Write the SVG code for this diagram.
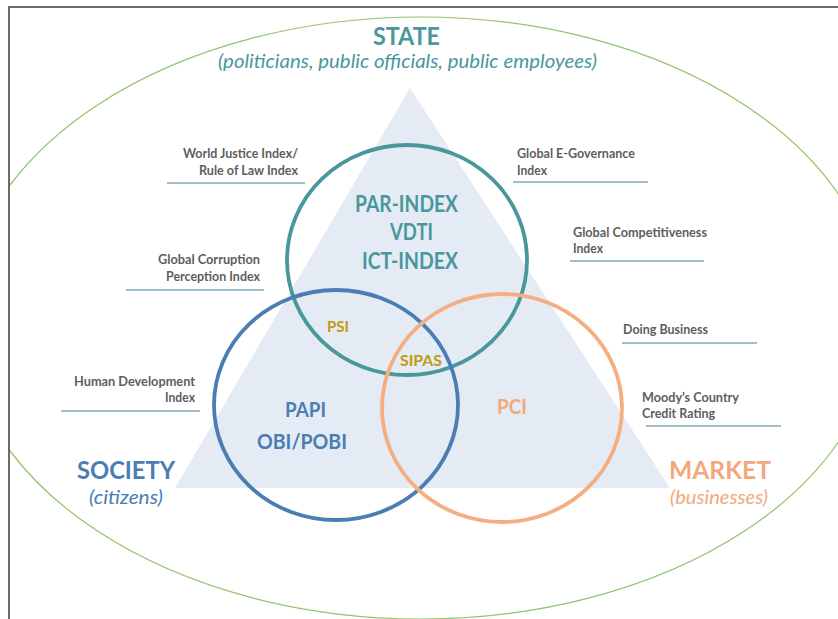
<svg xmlns="http://www.w3.org/2000/svg" width="838" height="619" viewBox="0 0 838 619">
<defs>
<clipPath id="frameClip"><rect x="10" y="8" width="840" height="620"/></clipPath>
<style>
text{font-family:Lato,"Liberation Sans",sans-serif;}
.lbl{font-size:12.5px;font-weight:bold;fill:#5e5e5e;}
.ul{stroke:#7faab8;stroke-width:1.5;fill:none;}
.big{font-weight:bold;}
.it{font-style:italic;}
.teal{fill:#4a979b;}
.blue{fill:#4a7db3;}
.orange{fill:#f2a87b;}
.gold{fill:#c09a10;font-weight:bold;font-size:15.5px;}
.ring{fill:none;stroke-width:3.8;}
</style>
</defs>
<rect width="838" height="619" fill="#ffffff"/>
<g id="frame"><path d="M9,619 V7 H838" fill="none" stroke="#6b6b6b" stroke-width="2"/></g>
<g id="environment"><ellipse cx="421" cy="318" rx="458" ry="301" fill="none" stroke="#92c36a" stroke-width="1.2" clip-path="url(#frameClip)"/></g>
<g id="triangle"><polygon points="410,88 175,488 670,488" fill="#e5ebf5"/></g>
<g id="state-circle"><ellipse cx="407" cy="260" rx="120" ry="115" class="ring" stroke="#4a979b"/></g>
<g id="society-circle"><ellipse cx="336" cy="405" rx="122" ry="115" class="ring" stroke="#4a7db3"/></g>
<g id="market-circle"><ellipse cx="502" cy="408" rx="120" ry="114" class="ring" stroke="#f4ae80"/></g>
<g id="connectors">
<line class="ul" x1="167" y1="183" x2="305" y2="183"/>
<line class="ul" x1="513" y1="182" x2="648" y2="182"/>
<line class="ul" x1="570" y1="261" x2="704" y2="261"/>
<line class="ul" x1="126" y1="290" x2="264" y2="290"/>
<line class="ul" x1="61" y1="411" x2="200" y2="411"/>
<line class="ul" x1="622" y1="343" x2="757" y2="343"/>
<line class="ul" x1="646" y1="426" x2="781" y2="426"/>
</g>
<g id="state-label">
<text x="373" y="45" class="big teal" font-size="25" textLength="67" lengthAdjust="spacingAndGlyphs">STATE</text>
<text x="218" y="68" class="it teal" font-size="19.5" textLength="379" lengthAdjust="spacingAndGlyphs">(politicians, public officials, public employees)</text>
</g>
<g id="state-indices">
<text x="355" y="212" class="big teal" font-size="22" textLength="103" lengthAdjust="spacingAndGlyphs">PAR-INDEX</text>
<text x="390" y="240" class="big teal" font-size="22" textLength="43" lengthAdjust="spacingAndGlyphs">VDTI</text>
<text x="362" y="269" class="big teal" font-size="22" textLength="96" lengthAdjust="spacingAndGlyphs">ICT-INDEX</text>
</g>
<g id="psi"><text x="327" y="332" class="gold" textLength="22" lengthAdjust="spacingAndGlyphs">PSI</text></g>
<g id="sipas"><text x="400" y="366" class="gold" textLength="42" lengthAdjust="spacingAndGlyphs">SIPAS</text></g>
<g id="society-indices">
<text x="285" y="417" class="big blue" font-size="21" textLength="41" lengthAdjust="spacingAndGlyphs">PAPI</text>
<text x="257" y="449" class="big blue" font-size="21" textLength="90" lengthAdjust="spacingAndGlyphs">OBI/POBI</text>
</g>
<g id="market-indices"><text x="497" y="414" class="big orange" font-size="21" textLength="30" lengthAdjust="spacingAndGlyphs">PCI</text></g>
<g id="society-label">
<text x="77" y="479" class="big blue" font-size="24.5" textLength="98" lengthAdjust="spacingAndGlyphs">SOCIETY</text>
<text x="89" y="504" class="it blue" font-size="18.5" textLength="74" lengthAdjust="spacingAndGlyphs">(citizens)</text>
</g>
<g id="market-label">
<text x="669" y="479" class="big orange" font-size="24.5" textLength="102" lengthAdjust="spacingAndGlyphs">MARKET</text>
<text x="670" y="504" class="it orange" font-size="18.5" textLength="98" lengthAdjust="spacingAndGlyphs">(businesses)</text>
</g>
<g id="wji">
<text x="183" y="158" class="lbl" textLength="115" lengthAdjust="spacingAndGlyphs">World Justice Index/</text>
<text x="199" y="175" class="lbl" textLength="99" lengthAdjust="spacingAndGlyphs">Rule of Law Index</text>
</g>
<g id="egov">
<text x="517" y="158" class="lbl" textLength="118" lengthAdjust="spacingAndGlyphs">Global E-Governance</text>
<text x="517" y="175" class="lbl" textLength="30" lengthAdjust="spacingAndGlyphs">Index</text>
</g>
<g id="gci">
<text x="573" y="237" class="lbl" textLength="134" lengthAdjust="spacingAndGlyphs">Global Competitiveness</text>
<text x="573" y="253" class="lbl" textLength="30" lengthAdjust="spacingAndGlyphs">Index</text>
</g>
<g id="cpi">
<text x="158" y="264" class="lbl" textLength="102" lengthAdjust="spacingAndGlyphs">Global Corruption</text>
<text x="166" y="281" class="lbl" textLength="94" lengthAdjust="spacingAndGlyphs">Perception Index</text>
</g>
<g id="hdi">
<text x="74" y="386" class="lbl" textLength="121" lengthAdjust="spacingAndGlyphs">Human Development</text>
<text x="165" y="402" class="lbl" textLength="30" lengthAdjust="spacingAndGlyphs">Index</text>
</g>
<g id="doing-business"><text x="623" y="334" class="lbl" textLength="85" lengthAdjust="spacingAndGlyphs">Doing Business</text></g>
<g id="moodys">
<text x="642" y="402" class="lbl" textLength="97" lengthAdjust="spacingAndGlyphs">Moody’s Country</text>
<text x="642" y="418" class="lbl" textLength="73" lengthAdjust="spacingAndGlyphs">Credit Rating</text>
</g>
</svg>
